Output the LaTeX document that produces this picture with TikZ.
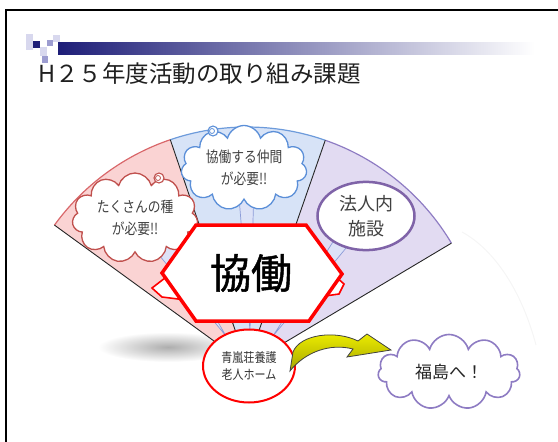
\documentclass[tikz,border=0pt]{standalone}
\usepackage{fontspec}
\setmainfont{Noto Sans CJK JP}
\newfontfamily\jpcond[FakeStretch=0.85]{Noto Sans CJK JP}
\newfontfamily\jpbold[FakeBold=1.2]{Noto Sans CJK JP}
\usetikzlibrary{shapes.symbols,shapes.geometric,calc}
\definecolor{navy}{HTML}{1E1E78}
\definecolor{sqlight}{HTML}{D8D8EE}
\definecolor{sqmid}{HTML}{9C9CD0}
\definecolor{redsec}{HTML}{FAD3D3}
\definecolor{redarc}{HTML}{D9676A}
\definecolor{bluesec}{HTML}{D7E3F7}
\definecolor{bluearc}{HTML}{6D9BDB}
\definecolor{purpsec}{HTML}{E2DBF2}
\definecolor{purparc}{HTML}{8E7CC3}
\definecolor{cloudred}{HTML}{C0504D}
\definecolor{cloudblue}{HTML}{5B8FD8}
\definecolor{purpline}{HTML}{7F63A8}
\definecolor{tailfill}{HTML}{DDE2F7}
\definecolor{tailline}{HTML}{8C9BD8}
\definecolor{txtgray}{HTML}{404040}
\definecolor{arrowyel}{HTML}{F2F200}
\tikzset{
  sector line/.style={black!85, line width=0.9pt},
  tailwedge/.style={fill=tailfill, draw=tailline, line width=0.7pt},
  cloudbox/.style={cloud, cloud puffs=11, cloud ignores aspect, fill=white, line width=1.3pt, align=center, text=txtgray},
  cloudtext/.style={font=\jpcond\fontsize{15}{22}\selectfont},
}
\begin{document}
\begin{tikzpicture}[x=1pt, y=-1pt]
\useasboundingbox (0,0) rectangle (558,442);
% frame
\draw[line width=1.2pt] (6,446) -- (6,10) -- (562,10);
% title bar
\shade[left color=navy, right color=white] (58,42) rectangle (535,54);
\fill[sqlight] (26,34) rectangle (33,50);
\fill[sqlight] (53,35) rectangle (60,42);
\fill[navy] (33,41) rectangle (40,48);
\fill[sqmid] (47,40) rectangle (53,46);
\fill[sqlight] (40,47) rectangle (47,56);
\fill[sqmid] (42,56) rectangle (48,63);
\node[anchor=west, inner sep=0pt, text=black!88, font=\fontsize{23.5}{26}\selectfont] (title) at (38,74) {H２５年度活動の取り組み課題};
% shadow
\shade[inner color=black!32, outer color=white] (168,347) ellipse[x radius=70, y radius=15];
% fan
\begin{scope}[shift={(247,365)}, y=1pt]
  \fill[redsec] (0,0) -- (144:238) arc[start angle=144, end angle=108.8, radius=238] -- cycle;
  \fill[bluesec] (0,0) -- (108.8:238) arc[start angle=108.8, end angle=70.8, radius=238] -- cycle;
  \fill[purpsec] (0,0) -- (70.8:238) arc[start angle=70.8, end angle=30.8, radius=238] -- cycle;
  \draw[redarc, line width=1.2pt] (144:238) arc[start angle=144, end angle=108.8, radius=238];
  \draw[bluearc, line width=1.2pt] (108.8:238) arc[start angle=108.8, end angle=70.8, radius=238];
  \draw[purparc, line width=1.2pt] (70.8:238) arc[start angle=70.8, end angle=30.8, radius=238];
  \draw[sector line] (0,0) -- (144:238);
  \draw[sector line] (0,0) -- (108.8:238);
  \draw[sector line] (0,0) -- (70.8:238);
  \draw[sector line] (0,0) -- (30.8:238);
\end{scope}
% faint arc at right
\draw[black!4, line width=1pt] (462,232) .. controls (495,250) and (522,292) .. (536,345);
% tail wedges
\coordinate (t1) at (226,336);
\coordinate (t2) at (250,331);
\coordinate (t3) at (273,336);
\fill[tailwedge] (t1) -- (140,232) -- (158,218) -- cycle;
\fill[tailwedge] (t2) -- (238,185) -- (254,185) -- cycle;
\fill[tailwedge] (t3) -- (352,212) -- (366,224) -- cycle;
% clouds and ellipse on top
\node[cloudbox, draw=cloudred, minimum width=125pt, minimum height=90pt, cloudtext] (c1) at (135,218) {たくさんの種\\が必要!!};
\draw[cloudred, line width=1.1pt, fill=white] (159,178) circle[radius=5];
\draw[cloudred, line width=0.8pt] (158,178) circle[radius=2.5];
\node[cloudbox, draw=cloudblue, minimum width=115pt, minimum height=85pt, cloudtext] (c2) at (244,168) {協働する仲間\\が必要!!};
\draw[cloudblue, line width=1.1pt, fill=white] (213,131) circle[radius=5];
\draw[cloudblue, line width=0.8pt] (212,131) circle[radius=2.5];
\node[ellipse, draw=purpline, line width=2.5pt, fill=white, minimum width=97pt, minimum height=67pt, align=center, text=txtgray, font=\fontsize{18}{25}\selectfont] (hj) at (366,216) {法人内\\施設};
% hexagon flaps
\draw[red, line width=1.6pt, fill=white] (152,288) -- (165,278) -- (186,300) -- (162,297) -- cycle;
\draw[red, line width=1.6pt, fill=white] (335,276) -- (344,284) -- (339,294) -- (325,296) -- cycle;
% hexagon
\draw[red, line width=3.5pt, fill=white, line join=miter] (162,273) -- (196,225) -- (306,225) -- (342,274) -- (309,321) -- (196,321) -- cycle;
\node[font=\jpbold\fontsize{41}{45}\selectfont, text=black, inner sep=0pt] (hex) at (251,273) {協働};
% home ellipse
\node[ellipse, draw=red, line width=2pt, fill=white, minimum width=92pt, minimum height=73pt, align=center, text=black!80, font=\jpcond\fontsize{13}{17}\selectfont] (home) at (249,366) {青嵐荘養護\\老人ホーム};
% yellow curved arrow
\draw[black!75, line width=0.8pt, top color=arrowyel, bottom color=olive!70!yellow]
  ($(home.east)+(-3,-14)$) .. controls (300,334) and (336,330) .. (358,341)
  -- (367,334) -- (391,350) -- (347,357) -- (353,349)
  .. controls (330,343) and (305,352) .. ($(home.east)+(-6,5)$) -- cycle;
% Fukushima cloud
\node[cloudbox, draw=purparc, line width=1.6pt, minimum width=142pt, minimum height=75pt, text=black!85, font=\fontsize{17}{20}\selectfont] (fk) at (449,372) {福島へ！};
\end{tikzpicture}
\end{document}
